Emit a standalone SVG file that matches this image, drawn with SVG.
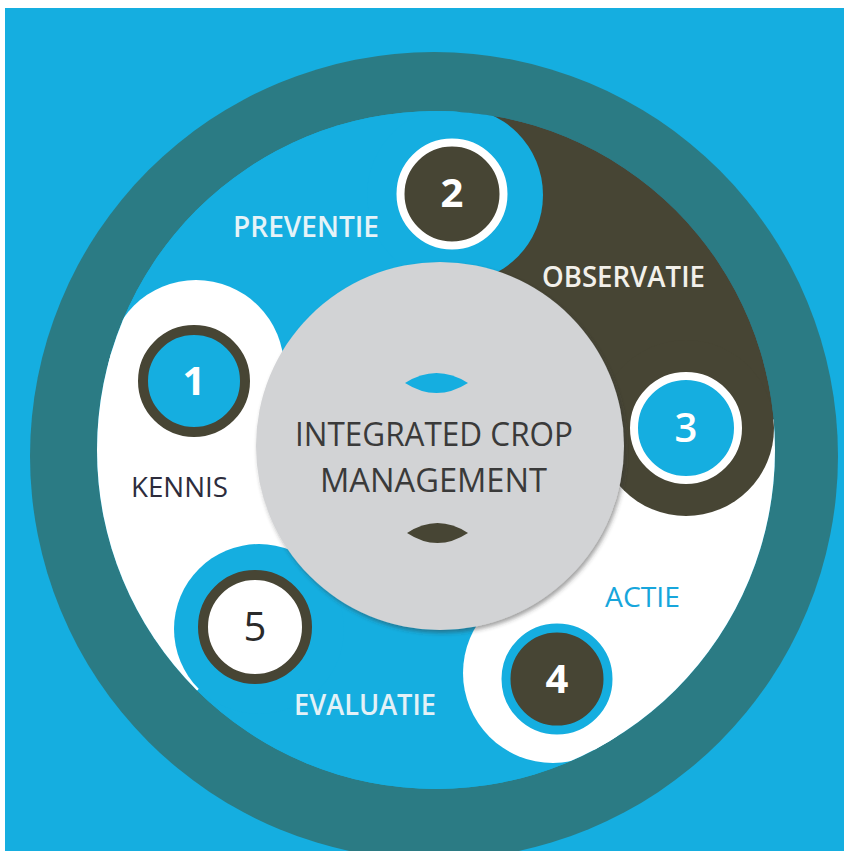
<svg xmlns="http://www.w3.org/2000/svg" width="844" height="851" viewBox="0 0 844 851">
  <defs>
    <style>
      .lbl { font-family: "Open Sans", "Liberation Sans", sans-serif; font-size: 28px; }
      .num { font-family: "Open Sans", "Liberation Sans", sans-serif; font-size: 40px; text-anchor: middle; }
      .ctr { font-family: "Open Sans", "Liberation Sans", sans-serif; font-size: 32px; fill: #3a3a3a; }
      .cyan { fill: #15aee0; }
      .dark { fill: #474534; }
      .white { fill: #ffffff; }
    </style>
    <clipPath id="inner">
      <circle cx="436" cy="450" r="339"/>
    </clipPath>
    <filter id="shadow" x="-10%" y="-10%" width="120%" height="120%">
      <feDropShadow dx="2" dy="3" stdDeviation="2" flood-color="#333333" flood-opacity="0.45"/>
    </filter>
  </defs>

  <!-- background -->
  <rect x="0" y="0" width="844" height="851" fill="#ffffff"/>
  <rect x="5" y="8" width="839" height="843" class="cyan"/>

  <!-- outer ring -->
  <circle id="outer-ring" cx="434" cy="456" r="404" fill="#2b7b84"/>
  <circle cx="436" cy="450" r="339" class="cyan"/>

  <g clip-path="url(#inner)">
    <g id="segment-sectors">
      <path class="white" d="M436,452 L181.4,706.6 A360,360 0 0 1 91.7,346.7 Z"/>
      <path class="cyan" d="M436,452 L91.7,346.7 A360,360 0 0 1 461.1,92.9 Z"/>
      <path class="dark" d="M436,452 L461.1,92.9 A360,360 0 0 1 794.3,417.5 Z"/>
      <path class="white" d="M436,452 L794.3,417.5 A360,360 0 0 1 605.0,769.9 Z"/>
      <path class="cyan" d="M436,452 L605.0,769.9 A360,360 0 0 1 181.4,706.6 Z"/>
    </g>
    <g id="segment-heads">
      <circle class="white" cx="196" cy="368" r="88"/>
      <circle class="cyan" cx="455" cy="195" r="88"/>
      <circle class="dark" cx="686" cy="428" r="88"/>
      <circle class="white" cx="553" cy="673" r="90"/>
      <circle class="cyan" cx="259" cy="629" r="85"/>
    </g>
  </g>

  <g id="connectors"/>

  <!-- center node -->
  <g id="center">
    <circle cx="440" cy="446" r="184" fill="#d2d3d5" filter="url(#shadow)"/>
    <path d="M405,383 Q436.5,363 468,383 Q436.5,403 405,383 Z" class="cyan"/>
    <text class="ctr" x="295" y="446" textLength="278" lengthAdjust="spacingAndGlyphs">INTEGRATED CROP</text>
    <text class="ctr" x="320" y="492" textLength="227" lengthAdjust="spacingAndGlyphs">MANAGEMENT</text>
    <path d="M407,533 Q437.5,513 468,533 Q437.5,553 407,533 Z" class="dark"/>
  </g>

  <!-- 1 KENNIS -->
  <g id="node-1">
    <circle cx="194" cy="381" r="51" fill="#15aee0" stroke="#474534" stroke-width="10"/>
    <text class="num" x="194" y="395" fill="#ffffff" font-weight="700">1</text>
    <text class="lbl" x="131" y="497" fill="#2d2c3c" textLength="97" lengthAdjust="spacingAndGlyphs">KENNIS</text>
  </g>

  <!-- 2 PREVENTIE -->
  <g id="node-2">
    <circle cx="452" cy="194" r="51.5" fill="#474534" stroke="#ffffff" stroke-width="8"/>
    <text class="num" x="452" y="207" fill="#ffffff" font-weight="700">2</text>
    <text class="lbl" x="233" y="237" fill="#e6f3f8" font-weight="600" textLength="146" lengthAdjust="spacingAndGlyphs">PREVENTIE</text>
  </g>

  <!-- 3 OBSERVATIE -->
  <g id="node-3">
    <circle cx="686" cy="428" r="52" fill="#15aee0" stroke="#ffffff" stroke-width="8"/>
    <text class="num" x="686" y="442" fill="#ffffff" font-weight="600">3</text>
    <text class="lbl" x="542" y="287" fill="#f2f0ea" font-weight="600" textLength="163" lengthAdjust="spacingAndGlyphs">OBSERVATIE</text>
  </g>

  <!-- 4 ACTIE -->
  <g id="node-4">
    <circle cx="557" cy="679" r="51" fill="#474534" stroke="#15aee0" stroke-width="9"/>
    <text class="num" x="557" y="693" fill="#ffffff" font-weight="700">4</text>
    <text class="lbl" x="605" y="607" fill="#17a6dc" textLength="75" lengthAdjust="spacingAndGlyphs">ACTIE</text>
  </g>

  <!-- 5 EVALUATIE -->
  <g id="node-5">
    <circle cx="255" cy="627" r="52" fill="#ffffff" stroke="#474534" stroke-width="10"/>
    <text class="num" x="255" y="641" fill="#2a2a2a" font-weight="500">5</text>
    <text class="lbl" x="294" y="715" fill="#e3f1f7" font-weight="600" textLength="142" lengthAdjust="spacingAndGlyphs">EVALUATIE</text>
  </g>
</svg>
